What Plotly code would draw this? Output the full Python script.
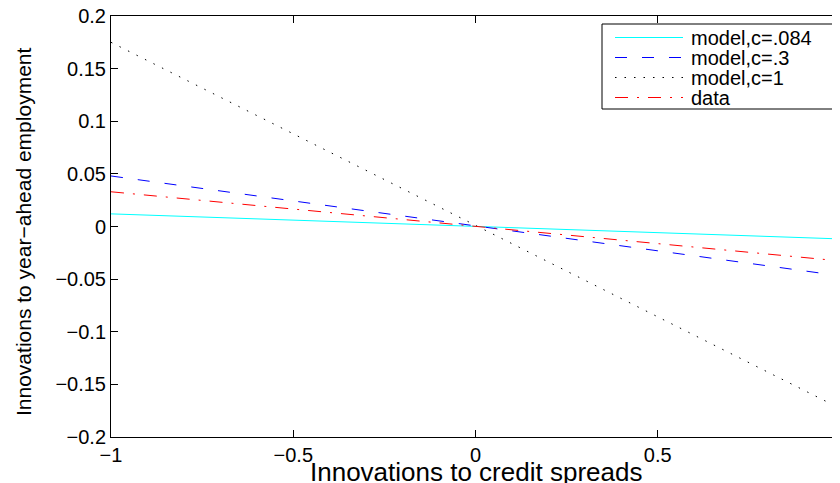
import plotly.graph_objects as go

# Data (straight lines, endpoints)
x_vals = [-1.0, 1.0]
model_c084 = [0.012, -0.0118]
model_c03 = [0.048, -0.0468]
model_c1 = [0.175, -0.1728]
data_line = [0.033, -0.0327]

x_ticks = [-1, -0.5, 0, 0.5]
x_tick_labels = ["\u22121", "\u22120.5", "0", "0.5"]
y_ticks = [-0.2, -0.15, -0.1, -0.05, 0, 0.05, 0.1, 0.15, 0.2]
y_tick_labels = ["\u22120.2", "\u22120.15", "\u22120.1", "\u22120.05", "0", "0.05", "0.1", "0.15", "0.2"]

series_names = ["model,c=.084", "model,c=.3", "model,c=1", "data"]
series_colors = ["#00FFFF", "#0000FF", "#000000", "#FF0000"]
series_dashes = ["solid", "12px,15px", "1.5px,8px", "13px,9px,2px,9px"]
series_values = [model_c084, model_c03, model_c1, data_line]

x_title = "Innovations to credit spreads"
y_title = "Innovations to year\u2212ahead employment"

FONT = "Liberation Sans, Arial, sans-serif"

# page body has an 8px margin; the figure is sized so the plot lands where the reference has it
PAD = 8
PL, PR, PT, PB = 111, 840, 16, 437  # plot area in screen pixels


def px_x(px):
    return (px - PL) / (PR - PL)


def px_y(py):
    return (PB - py) / (PB - PT)


fig = go.Figure()
for name, vals, col, dash in zip(series_names, series_values, series_colors, series_dashes):
    fig.add_trace(go.Scatter(x=x_vals, y=vals, mode="lines", name=name,
                             line=dict(color=col, width=1, dash=dash)))

# hand-built legend (MATLAB-like compact rows)
shapes = [dict(type="rect", xref="paper", yref="paper",
               x0=px_x(602), x1=px_x(834), y0=px_y(109), y1=px_y(24),
               line=dict(color="black", width=1), fillcolor="white", layer="above")]
annotations = []
row_y = [37.5, 57.5, 77.5, 97.5]
for name, col, dash, ry in zip(series_names, series_colors, series_dashes, row_y):
    shapes.append(dict(type="line", xref="paper", yref="paper",
                       x0=px_x(615), x1=px_x(683), y0=px_y(ry), y1=px_y(ry),
                       line=dict(color=col, width=1.2, dash=dash), layer="above"))
    annotations.append(dict(text=name, xref="paper", yref="paper", x=px_x(689), y=px_y(ry + 0.5),
                            xanchor="left", yanchor="middle", showarrow=False,
                            font=dict(size=20, family=FONT, color="black")))

annotations += [
    dict(text=x_title, xref="paper", yref="paper", x=0.5, y=px_y(472),
         xanchor="center", yanchor="middle", showarrow=False,
         font=dict(size=26, family=FONT)),
    dict(text=y_title, xref="paper", yref="paper", x=px_x(24), y=px_y(232),
         xanchor="center", yanchor="middle", showarrow=False, textangle=-90,
         font=dict(size=21, family=FONT)),
]

fig.update_layout(
    width=840 - PAD, height=483 - PAD,
    margin=dict(l=PL - PAD, r=0, t=PT - PAD, b=483 - PB),
    paper_bgcolor="white", plot_bgcolor="white",
    font=dict(family=FONT, color="black", size=20),
    showlegend=False,
    xaxis=dict(range=[-1, 1], tickvals=x_ticks, ticktext=x_tick_labels,
               ticks="inside", ticklen=7, tickcolor="black", tickwidth=1,
               showline=True, linecolor="black", linewidth=1, mirror="ticks",
               showgrid=False, zeroline=False, automargin=False,
               ticklabeloverflow="allow",
               tickfont=dict(size=20)),
    yaxis=dict(range=[-0.2, 0.2], tickvals=y_ticks, ticktext=y_tick_labels,
               ticks="inside", ticklen=7, tickcolor="black", tickwidth=1,
               showline=True, linecolor="black", linewidth=1, mirror="ticks",
               showgrid=False, zeroline=False, automargin=False,
               ticklabeloverflow="allow",
               tickfont=dict(size=20)),
    shapes=shapes,
    annotations=annotations,
)

fig.write_html("out.html")
